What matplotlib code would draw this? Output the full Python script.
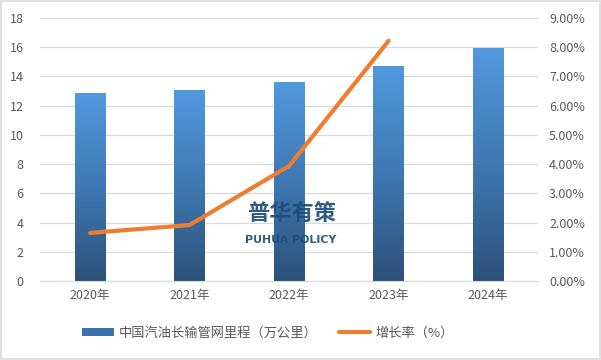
import numpy as np
import matplotlib
matplotlib.use("Agg")
import matplotlib.pyplot as plt
from matplotlib.colors import LinearSegmentedColormap
from matplotlib.patches import Rectangle, Patch
from matplotlib.lines import Line2D

plt.rcParams['font.family'] = ['Noto Sans CJK SC', 'DejaVu Sans']

years = ['2020年', '2021年', '2022年', '2023年', '2024年']
mileage = [12.85, 13.08, 13.65, 14.73, 15.98]
growth = [1.65, 1.92, 3.94, 8.22]

bar_name = '中国汽油长输管网里程（万公里）'
line_name = '增长率（%）'

fig = plt.figure(figsize=(6.01, 3.6), dpi=100)
fig.patches.append(Rectangle((0.002, 0.003), 0.996, 0.994, transform=fig.transFigure,
                             fill=False, edgecolor='#d9d9d9', linewidth=1.2))
ax = fig.add_axes([0.067, 0.219, 0.828, 0.731])
ax2 = ax.twinx()

x = np.arange(len(years))
bars = ax.bar(x, mileage, width=0.31, color='none', zorder=2)

# vertical gradient fill, dark at the bottom
cmap = LinearSegmentedColormap.from_list('blu', ['#2c5178', '#3f78b4', '#5199de'])
grad = np.linspace(0, 1, 256).reshape(-1, 1)
for b in bars:
    x0, y0 = b.get_x(), b.get_y()
    w, h = b.get_width(), b.get_height()
    im = ax.imshow(grad, cmap=cmap, origin='lower', aspect='auto',
                   extent=[x0, x0 + w, y0, y0 + h], zorder=2)
    im.set_clip_path(b)

ax.set_xlim(-0.5, 4.5)
ax.set_ylim(0, 18)
ax.set_yticks(range(0, 19, 2))
ax.yaxis.grid(True, color='#d9d9d9', linewidth=0.9, zorder=0)
ax.set_axisbelow(True)
ax.set_xticks(x)
ax.set_xticklabels(years)

ax2.plot(x[:len(growth)], growth, color='#ed7d31', linewidth=3, solid_capstyle='round', zorder=3)
ax2.set_ylim(0, 9)
ax2.set_yticks(range(0, 10))
ax2.set_yticklabels([f'{v:.2f}%' for v in range(0, 10)])

for a in (ax, ax2):
    for s in a.spines.values():
        s.set_visible(False)
    a.tick_params(length=0, labelsize=9, colors='#595959')
ax.spines['bottom'].set_visible(True)
ax.spines['bottom'].set_color('#d9d9d9')
ax.tick_params(axis='x', pad=6)
ax.tick_params(axis='y', pad=12)
ax2.tick_params(axis='y', pad=8)

# watermark
ax2.text(2.02, 2.3, '普华有策', ha='center', va='center', fontsize=16, fontweight='bold',
         color='#1f4e79', alpha=0.92, zorder=4)
ax2.text(2.02, 1.42, 'PUHUA POLICY', ha='center', va='center', fontsize=7.9,
         fontweight='bold', color='#1f4e79', alpha=0.92, zorder=4,
         family=['DejaVu Sans'])

handles = [Patch(facecolor='#3b72ab', edgecolor='none'),
           Line2D([0], [0], color='#ed7d31', linewidth=3, solid_capstyle='round')]
fig.legend(handles, [bar_name, line_name], loc='center', bbox_to_anchor=(0.446, 0.075),
           ncol=2, frameon=False, fontsize=9.5, labelcolor='#595959',
           handlelength=2.4, handleheight=0.6, columnspacing=1.6, handletextpad=0.4)

fig.savefig('out.png', dpi=100)
